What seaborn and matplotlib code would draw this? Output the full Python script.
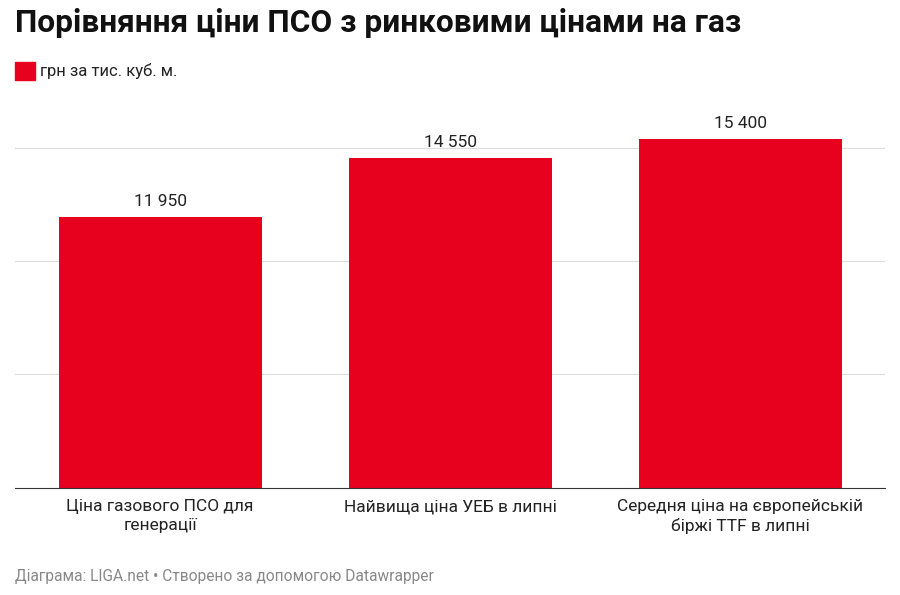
import matplotlib
matplotlib.use("Agg")
import matplotlib.pyplot as plt
import seaborn as sns
import pandas as pd
from matplotlib.patches import Rectangle

categories = ["Ціна газового ПСО для\nгенерації", "Найвища ціна УЕБ в липні",
              "Середня ціна на європейській\nбіржі TTF в липні"]
values = [11950, 14550, 15400]
labels = ["11 950", "14 550", "15 400"]

red = "#e8001f"
plt.rcParams["font.family"] = "Roboto"

df = pd.DataFrame({"cat": categories, "val": values})
fig = plt.figure(figsize=(9, 5.95), dpi=100)
ax = fig.add_axes([0.0167, 0.18, 0.967, 0.61])
sns.barplot(data=df, x="cat", y="val", color=red, width=0.7, saturation=1, ax=ax)
ax.set_xlim(-0.5, 2.5)
ax.set_ylim(0, 16000)
ax.set_yticks([5000, 10000, 15000])
ax.yaxis.grid(True, color="#dddddd", linewidth=0.8)
ax.set_axisbelow(True)
ax.tick_params(axis="y", left=False, labelleft=False)
ax.tick_params(axis="x", length=0, labelsize=12.5, pad=8, colors="#222222")
for t in ax.get_xticklabels():
    t.set_linespacing(1.3)
for s in ["top", "right", "left"]:
    ax.spines[s].set_visible(False)
ax.spines["bottom"].set_color("#333333")
ax.set_xlabel("")
ax.set_ylabel("")
for i, (v, l) in enumerate(zip(values, labels)):
    ax.text(i, v + 350, l, ha="center", va="bottom", fontsize=12.5, color="#222222")

fig.text(0.0167, 0.962, "Порівняння ціни ПСО з ринковими цінами на газ",
         fontsize=22.8, fontweight="bold", va="center", ha="left", color="#111111")
fig.patches.append(Rectangle((15 / 900, 1 - 80 / 595), 20 / 900, 18 / 595,
                             transform=fig.transFigure, color=red, figure=fig))
fig.text(40 / 900, 1 - 71 / 595, "грн за тис. куб. м.", fontsize=12,
         va="center", ha="left", color="#222222")
fig.text(0.0167, 1 - 577 / 595, "Діаграма: LIGA.net • Створено за допомогою Datawrapper",
         fontsize=11.2, va="center", ha="left", color="#888888")
fig.savefig("out.png", dpi=100)
